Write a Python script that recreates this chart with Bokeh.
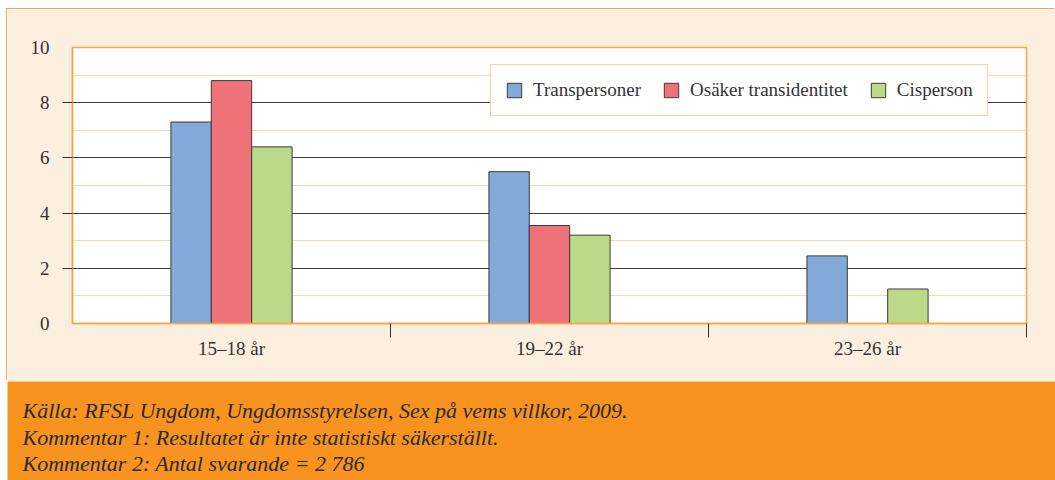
from bokeh.plotting import figure
from bokeh.models import FixedTicker, Range1d, Legend, LegendItem
from bokeh.layouts import column
from bokeh.embed import file_html
from bokeh.resources import INLINE
from bokeh.core.properties import value

# ---- data ----
categories = ["15–18 år", "19–22 år", "23–26 år"]
series = ["Transpersoner", "Osäker transidentitet", "Cisperson"]
transpersoner = [7.3, 5.5, 2.45]
osaker_transidentitet = [8.8, 3.55, None]
cisperson = [6.4, 3.2, 1.25]
y_ticks = [0, 2, 4, 6, 8, 10]
footer_lines = [
    "Källa: RFSL Ungdom, Ungdomsstyrelsen, Sex på vems villkor, 2009.",
    "Kommentar 1: Resultatet är inte statistiskt säkerställt.",
    "Kommentar 2: Antal svarande = 2 786",
]

# ---- style ----
colors = ["#82A9D8", "#F07279", "#BCD98A"]
panel_bg = "#FDEFE0"
orange_line = "#F7A54A"
footer_bg = "#F7931E"
dark = "#333333"
FONT = "Liberation Serif"

values = [transpersoner, osaker_transidentitet, cisperson]
n = len(categories)
bar_w = 0.127

W = 1048
H_TOP = 372
H_FOOT = 99

p = figure(width=W, height=H_TOP, x_range=Range1d(0, n), y_range=Range1d(0, 10),
           output_backend="svg", toolbar_location=None,
           min_border_left=65, min_border_right=29, min_border_top=38, min_border_bottom=58,
           background_fill_color="white", border_fill_color=panel_bg,
           outline_line_color=orange_line, outline_line_width=1.5)
p.frame_align = False
p.styles = {"box-shadow": "-1px -1px 0 0 #F7A54A"}

renderers = []
for si, vals in enumerate(values):
    xs = [i + 0.5 + (si - 1) * bar_w for i, v in enumerate(vals) if v is not None]
    tops = [v for v in vals if v is not None]
    r = p.vbar(x=xs, top=tops, bottom=0, width=bar_w, fill_color=colors[si],
               line_color="#3A3A3A", line_width=1)
    renderers.append(r)

# y axis
ya = p.yaxis[0]
ya.ticker = FixedTicker(ticks=y_ticks, minor_ticks=[2, 4, 6, 8])
ya.axis_line_color = orange_line
ya.axis_line_width = 1.5
ya.major_tick_line_color = None
ya.major_tick_out = 10
ya.major_tick_in = 0
ya.minor_tick_line_color = dark
ya.minor_tick_out = 10
ya.minor_tick_in = 0
ya.major_label_standoff = 13
ya.major_label_text_font = FONT
ya.major_label_text_font_size = "19px"
ya.major_label_text_color = dark

# x axis
xa = p.xaxis[0]
centers = [i + 0.5 for i in range(n)]
xa.ticker = FixedTicker(ticks=centers, minor_ticks=[i + 1 for i in range(n)])
xa.major_label_overrides = {c: lab for c, lab in zip(centers, categories)}
xa.axis_line_color = orange_line
xa.axis_line_width = 1.5
xa.major_tick_line_color = None
xa.major_tick_out = 0
xa.major_tick_in = 0
xa.minor_tick_line_color = dark
xa.minor_tick_out = 14
xa.minor_tick_in = 0
xa.major_label_standoff = 0
xa.major_label_text_font = FONT
xa.major_label_text_font_size = "19px"
xa.major_label_text_color = dark

# grids
p.xgrid.grid_line_color = None
p.ygrid.ticker = FixedTicker(ticks=[2, 4, 6, 8], minor_ticks=[1, 3, 5, 7, 9])
p.ygrid.grid_line_color = "#3C3C3C"
p.ygrid.grid_line_width = 1
p.ygrid.minor_grid_line_color = "#FFD6A8"
p.ygrid.minor_grid_line_width = 1.2

legend = Legend(items=[LegendItem(label=s, renderers=[r]) for s, r in zip(series, renderers)],
                orientation="horizontal", location=(418, 207),
                label_text_font=FONT, label_text_font_size="19px", label_text_color=dark,
                glyph_width=18, glyph_height=18, label_standoff=10, spacing=21,
                padding=14, margin=0,
                border_line_color=orange_line, border_line_width=1.5,
                background_fill_color="white", background_fill_alpha=1.0)
p.add_layout(legend)

# footer
f = figure(width=W, height=H_FOOT, x_range=Range1d(0, W), y_range=Range1d(0, H_FOOT),
           output_backend="svg", toolbar_location=None,
           x_axis_type=None, y_axis_type=None,
           min_border=0, min_border_left=0, min_border_right=0, min_border_top=0, min_border_bottom=0,
           background_fill_color=footer_bg, border_fill_color=footer_bg, outline_line_color=None)
f.frame_align = False
f.xgrid.grid_line_color = None
f.ygrid.grid_line_color = None
f.text(x=[15, 15, 15], y=[70, 43, 17], text=footer_lines,
       text_font=value(FONT), text_font_style="italic", text_font_size="22px",
       text_baseline="middle", text_align="left", text_color="#2A2A2A")

layout = column(p, f, spacing=0, margin=(9, 0, 0, 7))
open("out.html", "w").write(file_html(layout, INLINE))
